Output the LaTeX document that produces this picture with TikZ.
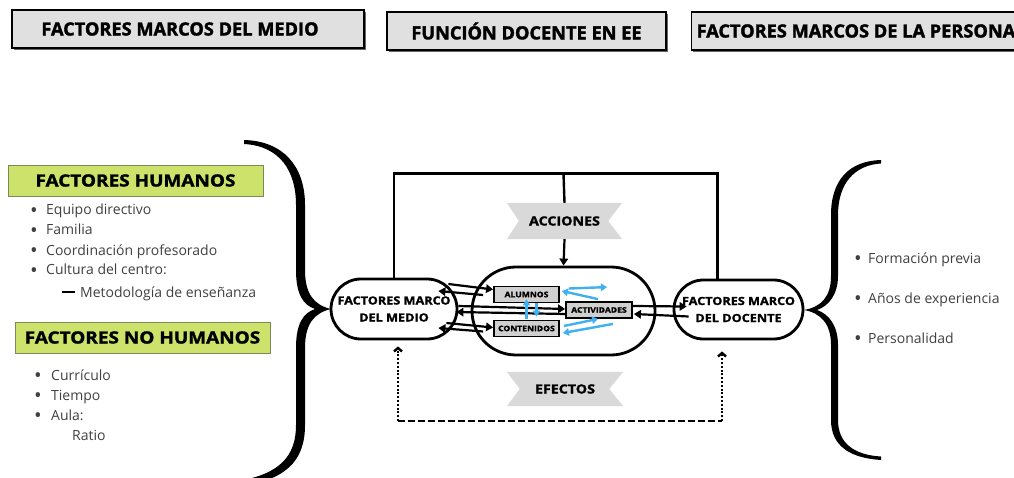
\documentclass[tikz,border=0pt]{standalone}
\usepackage{fontspec}
\setmainfont{Open Sans}
\newfontfamily\wideb{Open Sans}[FakeStretch=1.13, BoldFeatures={FakeBold=1.6}]
\newfontfamily\headf{Open Sans}[BoldFeatures={FakeBold=1.8}]
\usetikzlibrary{arrows.meta,calc,backgrounds,shadows}
\definecolor{hgray}{RGB}{224,224,224}
\definecolor{bgray}{RGB}{217,217,217}
\definecolor{igray}{RGB}{208,208,208}
\definecolor{lgreen}{RGB}{204,226,106}
\definecolor{gborder}{RGB}{125,135,90}
\definecolor{txtgray}{RGB}{64,64,64}
\definecolor{lblue}{RGB}{64,176,240}
\newcommand\bul{\raisebox{-2.6pt}{\scalebox{1.45}{\textbullet}}}
\begin{document}
\begin{tikzpicture}[x=1pt,y=-1pt,
  headbox/.style={draw=black, line width=1.2pt, fill=hgray, minimum height=38pt, inner sep=0pt,
    font=\headf\bfseries\fontsize{18.2}{20}\selectfont,
    drop shadow={shadow xshift=1.6pt, shadow yshift=-1.6pt, fill=black!60, opacity=1}},
  greenbox/.style={draw=gborder, line width=0.8pt, fill=lgreen, minimum height=31pt, inner sep=0pt,
    font=\wideb\bfseries\fontsize{16.8}{19}\selectfont},
  item/.style={anchor=base west, inner sep=0pt, text=txtgray, font=\fontsize{14}{16}\selectfont},
  stad/.style={draw, line width=2.8pt, fill=white, inner sep=0pt, align=center,
    font=\wideb\bfseries\fontsize{11.2}{17}\selectfont},
  ibox/.style={draw, line width=1.8pt, fill=igray, inner sep=0pt, minimum width=65pt, minimum height=16pt,
    font=\wideb\bfseries\fontsize{7.6}{8}\selectfont},
  banner/.style={inner sep=0pt, font=\wideb\bfseries\fontsize{12.6}{14}\selectfont},
  line/.style={line width=2.4pt},
  blk/.style={line width=2.2pt, -{Triangle[length=7pt,width=8.5pt]}},
  blu/.style={draw=lblue, line width=2.4pt, -{Triangle[length=6pt,width=7.5pt]}},
  dotv/.style={line width=2.4pt, dash pattern=on 2pt off 1.8pt, -{Straight Barb[length=3.5pt,width=8pt]}},
  dashh/.style={line width=2.4pt, dash pattern=on 7pt off 3pt}
]
\useasboundingbox (0,0) rectangle (1014,478);

% top headers
\node[headbox, minimum width=352pt] (h1) at (188,29) {\hspace*{-16pt}FACTORES MARCOS DEL MEDIO};
\node[headbox, minimum width=279pt] (h2) at (526.5,31) {FUNCIÓN DOCENTE EN EE};
\node[headbox, anchor=west, inner xsep=5pt, align=left] (h3) at (691,31) {FACTORES MARCOS DE LA PERSONA\hspace*{20pt}};

% left lists
\node[greenbox, minimum width=255pt] (fh) at (135.5,180.5) {FACTORES HUMANOS};
\node[item] (e1) at (30,215) {\makebox[16pt][l]{\bul}Equipo directivo};
\node[item] (e2) at (30,235) {\makebox[16pt][l]{\bul}Familia};
\node[item] (e3) at (30,255) {\makebox[16pt][l]{\bul}Coordinación profesorado};
\node[item] (e4) at (30,275) {\makebox[16pt][l]{\bul}Cultura del centro:};
\node[item] (e5) at (62,297) {{\color{black}\rule[4pt]{13pt}{2.2pt}}\hspace{5pt}Metodología de enseñanza};

\node[greenbox, minimum width=255pt] (fnh) at (142.5,337.5) {FACTORES NO HUMANOS};
\node[item] (n1) at (34,380) {\makebox[17pt][l]{\bul}Currículo};
\node[item] (n2) at (34,400) {\makebox[17pt][l]{\bul}Tiempo};
\node[item] (n3) at (34,420) {\makebox[17pt][l]{\bul}Aula:};
\node[item] (n4) at (72,440) {Ratio};

% right list
\node[item] (r1) at (854,263) {\makebox[14pt][l]{\bul}Formación previa};
\node[item] (r2) at (854,303) {\makebox[14pt][l]{\bul}Años de experiencia};
\node[item] (r3) at (854,343) {\makebox[14pt][l]{\bul}Personalidad};

% braces
\fill (244,140) .. controls (283,141) and (305,166) .. (305,205) -- (305,270)
  .. controls (305,294) and (314,305) .. (331,309)
  .. controls (314,313) and (305,324) .. (305,348) -- (305,425)
  .. controls (305,462) and (285,480) .. (238,487) -- (238,481)
  .. controls (280,474) and (296,456) .. (296,425) -- (296,348)
  .. controls (296,324) and (303,313) .. (315,309)
  .. controls (303,305) and (296,294) .. (296,270) -- (296,205)
  .. controls (296,171) and (280,146) .. (244,144) -- cycle;
\fill (881,160) .. controls (849,161) and (831,180) .. (831,215) -- (831,276)
  .. controls (831,297) and (821,307) .. (804,310)
  .. controls (821,313) and (831,324) .. (831,345) -- (831,420)
  .. controls (831,446) and (850,458) .. (881,460) -- (881,456.5)
  .. controls (855,455) and (838,444) .. (838,420) -- (838,345)
  .. controls (838,326) and (829,314) .. (817,310)
  .. controls (829,306) and (838,294) .. (838,276) -- (838,215)
  .. controls (838,183) and (855,165) .. (881,163.5) -- cycle;

% central stadiums
\node[stad, minimum width=126pt, minimum height=60pt, rounded corners=30pt] (lmed) at (394,309) {FACTORES MARCO\\DEL MEDIO};
\node[stad, minimum width=183pt, minimum height=88pt, rounded corners=44pt] (big) at (563.5,311) {};
\node[stad, minimum width=129pt, minimum height=59pt, rounded corners=29.5pt] (ldoc) at (738.5,309.5) {FACTORES MARCO\\DEL DOCENTE};

% banners
\node[banner, minimum width=115pt, minimum height=36pt] (acc) at (564.5,221) {ACCIONES};
\node[banner, minimum width=116pt, minimum height=34pt] (efe) at (565,389) {EFECTOS};
\begin{scope}[on background layer]
\fill[bgray] (acc.north west) -- (acc.north east) -- ($(acc.east)+(-14,0)$) -- (acc.south east)
  -- (acc.south west) -- ($(acc.west)+(12,0)$) -- cycle;
\fill[bgray] (efe.north west) -- (efe.north east) -- ($(efe.east)+(-14,0)$) -- (efe.south east)
  -- (efe.south west) -- ($(efe.west)+(13,0)$) -- cycle;
\end{scope}

% top connector
\draw[line] (lmed.north) |- ($(ldoc.north)+(-21,-105)$) -- ($(ldoc.north)+(-21,0)$);
\draw[line] ($(big.north)+(0,-92)$) -- (acc.north);
\draw[blk] (acc.south) -- (big.north);

% inner boxes
\node[ibox] (alu) at (526.5,294.5) {ALUMNOS};
\node[ibox] (con) at (526.5,328.5) {CONTENIDOS};
\node[ibox, minimum width=66pt] (acti) at (599,310) {ACTIVIDADES};

% black arrows
\draw[blk] ($(lmed.east)+(-10,-25)$) -- ($(alu.west)+(0,-5)$);
\draw[blk] ($(alu.west)+(-10,0.5)$) -- ($(lmed.east)+(-20,-18)$);
\draw[blk] ($(lmed.east)+(0,-3)$) -- ($(acti.west)+(0,-1)$);
\draw[blk] ($(acti.west)+(0,4)$) -- ($(lmed.east)+(-2,3)$);
\draw[blk] ($(lmed.east)+(-12,14)$) -- ($(con.west)+(0,-1)$);
\draw[blk] ($(con.west)+(-10,3)$) -- ($(lmed.east)+(-20,19)$);
\draw[blk] ($(acti.east)+(0,-4)$) -- ($(ldoc.west)+(14,-3)$);
\draw[blk] ($(ldoc.west)+(16,7)$) -- ($(acti.east)+(1,4)$);

% blue arrows
\draw[blu] ($(alu.east)+(9,-6)$) -- ($(acti.north)+(8,-14)$);
\draw[blu] ($(acti.north)+(-1,-2)$) -- ($(alu.east)+(2,-3.5)$);
\draw[blu] ($(con.east)+(4,-2.5)$) -- ($(acti.south)+(-1,0)$);
\draw[blu] ($(acti.south)+(14,5)$) -- ($(con.east)+(3,4.5)$);
\draw[blu] ($(con.north)+(0,-0.5)$) -- ($(alu.south)+(0,-4)$);
\draw[blu] ($(alu.south)+(10,0)$) -- ($(con.north)+(10,-3)$);

% dotted feedback
\coordinate (dl) at (398,421);
\coordinate (dr) at (722,421);
\draw[dashh] (dl) -- (dr);
\draw[dotv] (dl) -- ($(lmed.south)+(4,6)$);
\draw[dotv] (dr) -- ($(ldoc.south)+(-16.5,11)$);
\end{tikzpicture}
\end{document}
